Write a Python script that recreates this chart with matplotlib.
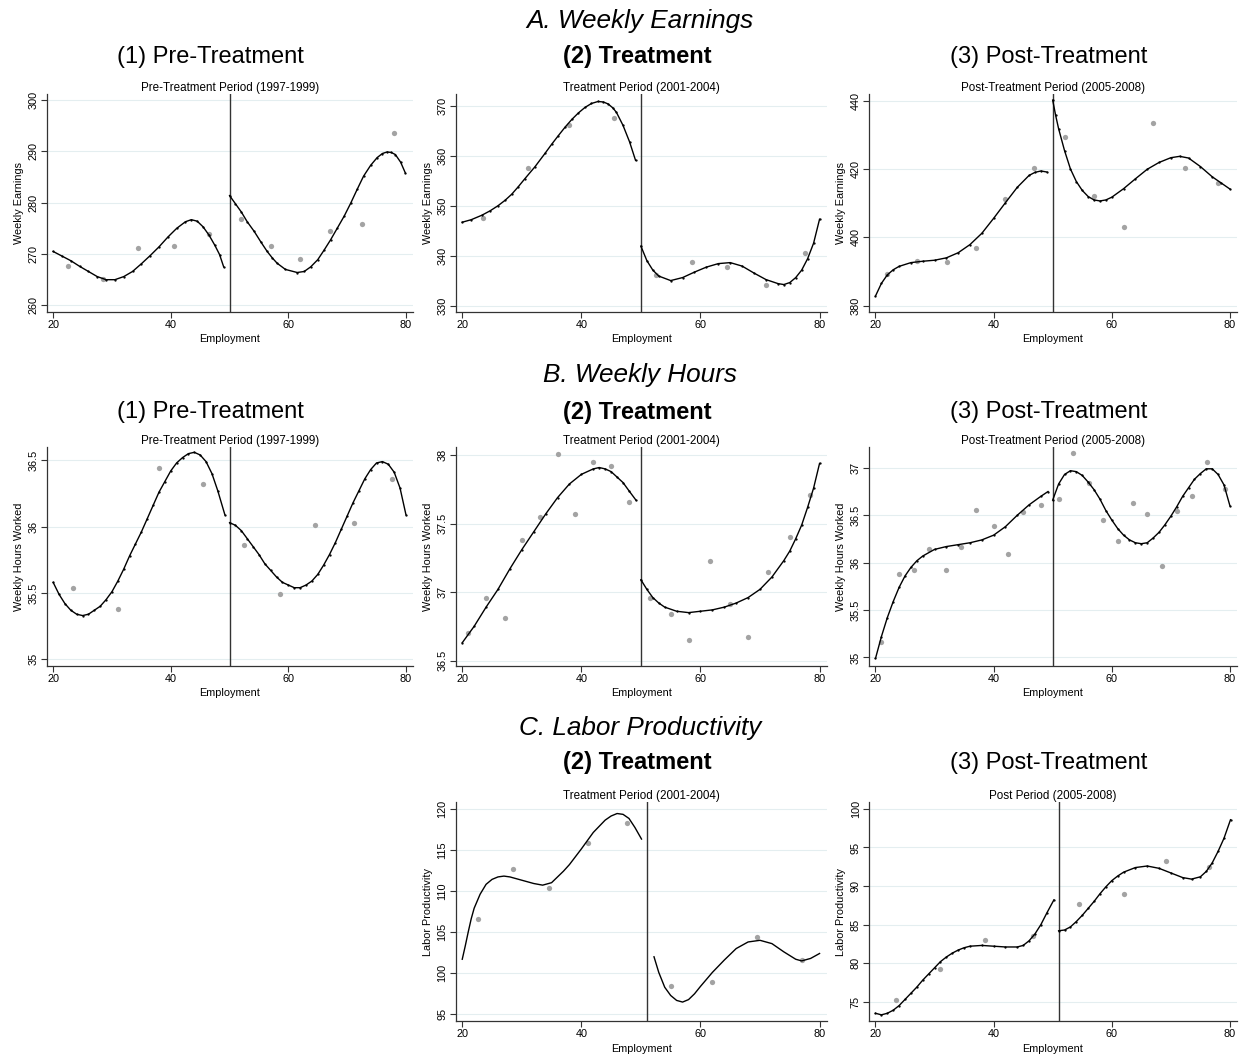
import matplotlib
matplotlib.use("Agg")
import matplotlib.pyplot as plt

plt.rcParams["font.family"] = ["Liberation Sans", "DejaVu Sans"]

W, H = 1244, 1055

# ---------------- A. Weekly Earnings ----------------
earn_pre_x = [22.5, 28.5, 34.4, 40.5, 46.5, 52.0, 57.0, 62.0, 67.0, 72.5, 77.9]
earn_pre_y = [267.6, 265.2, 271.1, 271.5, 274.0, 276.8, 271.5, 269.1, 274.4, 275.8, 293.5]
earn_pre_lx = [20, 21.5, 23, 24.5, 26, 27.5, 29, 30.5, 32, 33.5, 35, 36.5, 38, 39.5, 41,
               42.5, 43.5, 44.5, 45.5, 46.5, 47.5, 48.3, 49.0]
earn_pre_ly = [270.5, 269.6, 268.7, 267.6, 266.6, 265.6, 265.0, 265.0, 265.6, 266.6, 268.1,
               269.7, 271.4, 273.3, 275.0, 276.3, 276.7, 276.4, 275.3, 273.7, 271.7, 269.9,
               267.5]
earn_pre_rx = [50, 51, 52, 53, 54.2, 55.3, 56.4, 57.3, 58.1, 59.5, 61.5, 62.7, 63.8, 65,
               66.1, 67.2, 68.3, 69.5, 70.6, 71.7, 72.8, 74, 75.1, 76, 76.8, 77.5, 78.2,
               79.1, 79.9]
earn_pre_ry = [281.4, 279.8, 278.2, 276.3, 274.4, 272.4, 270.5, 269.2, 268.2, 267.0, 266.4,
               266.6, 267.5, 268.9, 270.8, 272.8, 275.0, 277.4, 279.9, 282.6, 285.2, 287.3,
               288.8, 289.6, 289.9, 289.8, 289.4, 287.9, 285.8]

earn_trt_x = [23.5, 31.0, 37.9, 45.5, 52.6, 58.5, 64.5, 71.0, 77.5]
earn_trt_y = [347.6, 357.5, 366.2, 367.5, 336.2, 338.8, 337.7, 334.2, 340.6]
earn_trt_lx = [20, 21.5, 23.3, 24.7, 26, 27.2, 28.3, 29.4, 30.5, 32.2, 33.9, 35, 36.1, 37.3,
               38.4, 39.5, 40.6, 41.7, 42.8, 43.7, 44.5, 45.3, 45.9, 47.0, 48.1, 49.1]
earn_trt_ly = [346.7, 347.2, 348.1, 349.0, 350.0, 351.1, 352.3, 353.8, 355.4, 357.8, 360.5,
               362.3, 364.0, 365.8, 367.3, 368.6, 369.7, 370.5, 370.9, 370.8, 370.4, 369.6,
               368.7, 366.1, 362.8, 359.1]
earn_trt_rx = [50, 51, 52, 53, 55, 57, 59, 61, 63, 65, 67, 69, 71, 73, 74, 75, 76, 77, 78, 79, 80]
earn_trt_ry = [341.9, 339.0, 337.1, 335.9, 335.0, 335.6, 336.7, 337.7, 338.4, 338.6, 337.9,
               336.5, 335.2, 334.4, 334.2, 334.6, 335.6, 337.1, 339.4, 342.5, 347.3]

earn_post_x = [22.0, 27.1, 32.1, 37.0, 42.0, 46.9, 52.0, 57.0, 62.0, 67.0, 72.4, 78.0]
earn_post_y = [389.2, 393.1, 392.7, 396.9, 411.4, 420.3, 429.5, 412.2, 403.1, 433.6, 420.4, 416.1]
earn_post_lx = [20, 21, 22, 23, 24, 26, 28, 30, 32, 34, 36, 38, 40, 42, 44, 46, 47, 48, 49]
earn_post_ly = [382.8, 386.5, 389.0, 390.5, 391.5, 392.6, 393.0, 393.3, 394.0, 395.5, 397.9,
                401.2, 405.6, 410.2, 414.7, 418.2, 419.1, 419.5, 419.2]
earn_post_rx = [50, 50.5, 51, 52, 53, 54, 55, 56, 57, 58, 59, 60, 62, 64, 66, 68, 70, 71.5,
                73, 75, 77, 78.5, 80]
earn_post_ry = [440.3, 435.8, 431.9, 425.5, 420.1, 416.4, 413.8, 412.0, 411.0, 410.7, 411.0,
                411.8, 414.3, 417.2, 420.0, 422.0, 423.4, 423.8, 423.3, 420.8, 417.8, 416.0, 414.2]

# ---------------- B. Weekly Hours ----------------
hrs_pre_x = [23.4, 31.0, 38.0, 45.5, 52.5, 58.5, 64.6, 71.1, 77.6]
hrs_pre_y = [35.54, 35.38, 36.44, 36.32, 35.86, 35.49, 36.01, 36.03, 36.36]
hrs_pre_lx = [20, 21, 22, 23, 24, 25, 26, 27, 28, 29, 30, 31, 32, 33, 34, 35, 36, 37, 38,
              39, 40, 41, 42, 43, 44, 45, 46, 47, 48, 49.2]
hrs_pre_ly = [35.58, 35.49, 35.42, 35.37, 35.34, 35.33, 35.34, 35.37, 35.40, 35.45, 35.51,
              35.59, 35.68, 35.78, 35.87, 35.96, 36.06, 36.16, 36.26, 36.34, 36.42, 36.48,
              36.52, 36.55, 36.56, 36.54, 36.49, 36.40, 36.27, 36.09]
hrs_pre_rx = [50, 51, 52, 53, 54, 55, 56, 57, 58, 59, 60, 61, 62, 63, 64, 65, 66, 67, 68,
              69, 70, 71, 72, 73, 74, 75, 76, 77, 78, 79, 80]
hrs_pre_ry = [36.03, 36.01, 35.97, 35.91, 35.85, 35.79, 35.72, 35.67, 35.62, 35.58, 35.56,
              35.54, 35.54, 35.56, 35.59, 35.64, 35.71, 35.79, 35.88, 35.98, 36.08, 36.18,
              36.27, 36.36, 36.43, 36.48, 36.49, 36.47, 36.41, 36.29, 36.09]

hrs_trt_x = [21.0, 24.0, 27.1, 30.1, 33.1, 36.0, 39.0, 42.0, 45.0, 48.0, 51.5, 55.0, 58.0,
             61.6, 65.0, 68.0, 71.4, 75.0, 78.4]
hrs_trt_y = [36.70, 36.96, 36.81, 37.38, 37.55, 38.01, 37.57, 37.95, 37.92, 37.66, 36.96,
             36.84, 36.65, 37.23, 36.91, 36.67, 37.15, 37.40, 37.71]
hrs_trt_lx = [20, 22, 24, 26, 28, 30, 32, 34, 36, 38, 40, 42, 43, 44, 45, 46, 47, 48, 49.2]
hrs_trt_ly = [36.63, 36.75, 36.89, 37.02, 37.17, 37.31, 37.44, 37.57, 37.69, 37.79, 37.86,
              37.90, 37.91, 37.90, 37.88, 37.84, 37.80, 37.74, 37.67]
hrs_trt_rx = [50, 51, 52, 53, 54, 56, 58, 60, 62, 64, 66, 68, 70, 72, 74, 75, 76, 77, 78, 79, 80]
hrs_trt_ry = [37.09, 37.02, 36.96, 36.92, 36.89, 36.86, 36.85, 36.86, 36.87, 36.89, 36.92,
              36.96, 37.02, 37.11, 37.23, 37.30, 37.39, 37.49, 37.62, 37.76, 37.94]

hrs_post_x = [21.0, 24.0, 26.5, 29.0, 32.0, 34.5, 37.0, 40.0, 42.5, 45.0, 48.0, 51.1, 53.5,
              56.1, 58.5, 61.0, 63.6, 66.0, 68.5, 71.1, 73.6, 76.1, 79.1]
hrs_post_y = [35.16, 35.88, 35.92, 36.14, 35.92, 36.17, 36.56, 36.39, 36.09, 36.53, 36.61,
              36.67, 37.16, 36.84, 36.45, 36.23, 36.63, 36.51, 35.97, 36.54, 36.70, 37.06, 36.78]
hrs_post_lx = [20, 21, 22, 23, 24, 25, 26, 27, 28, 30, 32, 34, 36, 38, 40, 42, 44, 46, 48, 49.2]
hrs_post_ly = [34.99, 35.22, 35.42, 35.59, 35.74, 35.86, 35.95, 36.02, 36.07, 36.14, 36.17,
               36.19, 36.21, 36.24, 36.29, 36.38, 36.50, 36.61, 36.70, 36.75]
hrs_post_rx = [50, 51, 52, 53, 54, 55, 56, 57, 58, 59, 60, 61, 62, 63, 64, 65, 66, 67, 68,
               69, 70, 71, 72, 73, 74, 75, 76, 77, 78, 79, 80]
hrs_post_ry = [36.66, 36.83, 36.93, 36.97, 36.96, 36.92, 36.85, 36.77, 36.67, 36.55, 36.45,
               36.36, 36.29, 36.24, 36.21, 36.20, 36.21, 36.26, 36.32, 36.40, 36.49, 36.59,
               36.70, 36.79, 36.88, 36.94, 36.99, 36.99, 36.93, 36.82, 36.60]

# ---------------- C. Labor Productivity ----------------
prod_trt_x = [22.6, 28.6, 34.6, 41.1, 47.6, 55.0, 62.0, 69.5, 77.0]
prod_trt_y = [106.6, 112.7, 110.3, 115.8, 118.3, 98.5, 98.9, 104.4, 101.6]
prod_trt_lx = [20, 20.5, 21, 21.5, 22, 23, 24, 25, 26, 27, 28, 30, 32, 33.5, 35, 36, 37, 38,
               40, 42, 44, 45, 46, 47, 48, 49, 50.1]
prod_trt_ly = [101.7, 103.3, 105.0, 106.6, 107.9, 109.6, 110.8, 111.4, 111.7, 111.8, 111.7,
               111.3, 110.9, 110.7, 111.0, 111.7, 112.4, 113.2, 115.1, 117.1, 118.6, 119.1,
               119.4, 119.3, 118.8, 117.7, 116.3]
prod_trt_rx = [52.2, 53, 54, 55, 56, 57, 58, 59, 60, 62, 64, 66, 68, 70, 72, 74, 76, 77, 78.5, 80]
prod_trt_ry = [102.0, 100.1, 98.3, 97.3, 96.7, 96.5, 96.8, 97.5, 98.4, 100.1, 101.6, 103.0,
               103.8, 104.0, 103.6, 102.6, 101.7, 101.5, 101.8, 102.4]

prod_post_x = [23.5, 31.0, 38.6, 46.6, 54.5, 62.1, 69.1, 76.5]
prod_post_y = [75.2, 79.2, 83.0, 83.5, 87.7, 89.0, 93.3, 92.5]
prod_post_lx = [20, 21, 22, 23, 24, 25, 26, 27, 28, 29, 30, 31, 32, 33, 34, 35, 36, 38, 40,
                42, 44, 45, 46, 47, 48, 49, 50.2]
prod_post_ly = [73.5, 73.3, 73.5, 73.9, 74.5, 75.3, 76.1, 76.9, 77.8, 78.6, 79.4, 80.2, 80.8,
                81.3, 81.7, 82.0, 82.2, 82.3, 82.2, 82.1, 82.1, 82.3, 82.9, 83.8, 85.0, 86.5, 88.2]
prod_post_rx = [51, 52, 53, 54, 55, 56, 57, 58, 59, 60, 61, 62, 64, 66, 68, 70, 72, 73.5, 75,
                76, 77, 78, 79, 80.1]
prod_post_ry = [84.2, 84.3, 84.7, 85.4, 86.2, 87.1, 88.0, 89.0, 89.9, 90.7, 91.3, 91.8, 92.4,
                92.6, 92.3, 91.7, 91.1, 90.9, 91.2, 91.9, 93.0, 94.5, 96.2, 98.6]

section_titles = ["A. Weekly Earnings", "B. Weekly Hours", "C. Labor Productivity"]
column_titles = ["(1) Pre-Treatment", "(2) Treatment", "(3) Post-Treatment"]

# axes boxes in pixels (left, right) and (top, bottom)
COLS = [(46.7, 413.0), (455.7, 826.7), (869.0, 1237.0)]
ROWS = [(94.0, 312.0), (447.0, 666.0), (802.0, 1021.0)]
SECTION_Y = [21, 375, 728]
HEADER_Y = [57, 412, 763]
HEADER_X = [210, 637, 1049]

panels = [
    # row, col, scatter, left fit, right fit, cutoff, ylim, yticks, ylabel, subtitle, markers
    (0, 0, (earn_pre_x, earn_pre_y), (earn_pre_lx, earn_pre_ly), (earn_pre_rx, earn_pre_ry),
     50, (258.7, 301.2), [260, 270, 280, 290, 300], "Weekly Earnings",
     "Pre-Treatment Period (1997-1999)", True),
    (0, 1, (earn_trt_x, earn_trt_y), (earn_trt_lx, earn_trt_ly), (earn_trt_rx, earn_trt_ry),
     50, (328.7, 372.4), [330, 340, 350, 360, 370], "Weekly Earnings",
     "Treatment Period (2001-2004)", True),
    (0, 2, (earn_post_x, earn_post_y), (earn_post_lx, earn_post_ly), (earn_post_rx, earn_post_ry),
     50, (378.1, 442.1), [380, 400, 420, 440], "Weekly Earnings",
     "Post-Treatment Period (2005-2008)", True),
    (1, 0, (hrs_pre_x, hrs_pre_y), (hrs_pre_lx, hrs_pre_ly), (hrs_pre_rx, hrs_pre_ry),
     50, (34.95, 36.60), [35, 35.5, 36, 36.5], "Weekly Hours Worked",
     "Pre-Treatment Period (1997-1999)", True),
    (1, 1, (hrs_trt_x, hrs_trt_y), (hrs_trt_lx, hrs_trt_ly), (hrs_trt_rx, hrs_trt_ry),
     50, (36.46, 38.06), [36.5, 37, 37.5, 38], "Weekly Hours Worked",
     "Treatment Period (2001-2004)", True),
    (1, 2, (hrs_post_x, hrs_post_y), (hrs_post_lx, hrs_post_ly), (hrs_post_rx, hrs_post_ry),
     50, (34.91, 37.22), [35, 35.5, 36, 36.5, 37], "Weekly Hours Worked",
     "Post-Treatment Period (2005-2008)", True),
    (2, 1, (prod_trt_x, prod_trt_y), (prod_trt_lx, prod_trt_ly), (prod_trt_rx, prod_trt_ry),
     51, (94.2, 120.8), [95, 100, 105, 110, 115, 120], "Labor Productivity",
     "Treatment Period (2001-2004)", False),
    (2, 2, (prod_post_x, prod_post_y), (prod_post_lx, prod_post_ly), (prod_post_rx, prod_post_ry),
     51, (72.5, 100.9), [75, 80, 85, 90, 95, 100], "Labor Productivity",
     "Post Period (2005-2008)", True),
]


def draw_panel(ax, scatter, left, right, cut, ylim, yticks, ylabel, subtitle, markers):
    ax.set_xlim(18.9, 81.2)
    ax.set_ylim(*ylim)
    ax.set_xticks([20, 40, 60, 80])
    ax.set_yticks(yticks)
    ax.set_yticklabels([f"{v:g}" for v in yticks], rotation=90, va="center")
    ax.tick_params(axis="both", labelsize=7.8, length=4, width=0.8, color="#333333",
                   pad=2)
    for side in ("top", "right"):
        ax.spines[side].set_visible(False)
    for side in ("left", "bottom"):
        ax.spines[side].set_color("#333333")
        ax.spines[side].set_linewidth(0.9)
    ax.grid(axis="y", color="#e4eef0", linewidth=0.8)
    ax.set_axisbelow(True)

    ax.plot(scatter[0], scatter[1], "o", color="#a3a3a3", markersize=3.8,
            markeredgewidth=0, zorder=2)
    mk = "." if markers else None
    for seg in (left, right):
        ax.plot(seg[0], seg[1], color="black", linewidth=1.0, marker=mk,
                markersize=1.3, zorder=3)
    ax.axvline(cut, color="#333333", linewidth=1.0, zorder=1)

    ax.set_xlabel("Employment", fontsize=7.8, labelpad=3)
    ax.set_ylabel(ylabel, fontsize=7.8, labelpad=3)
    ax.set_title(subtitle, fontsize=8.4, pad=2)


fig = plt.figure(figsize=(W / 100, H / 100), dpi=100)

for row, col, sc, lf, rf, cut, ylim, yticks, ylabel, subtitle, markers in panels:
    (xl, xr), (yt, yb) = COLS[col], ROWS[row]
    ax = fig.add_axes([xl / W, 1 - yb / H, (xr - xl) / W, (yb - yt) / H])
    draw_panel(ax, sc, lf, rf, cut, ylim, yticks, ylabel, subtitle, markers)

for i, title in enumerate(section_titles):
    fig.text(640 / W, 1 - SECTION_Y[i] / H, title, fontsize=18.8, style="italic",
             ha="center", va="center")
    for c, head in enumerate(column_titles):
        if i == 2 and c == 0:
            continue
        fig.text(HEADER_X[c] / W, 1 - HEADER_Y[i] / H, head, fontsize=17,
                 fontweight="bold" if c == 1 else "normal", ha="center", va="center")

fig.savefig("out.png", dpi=100)
plt.close(fig)
